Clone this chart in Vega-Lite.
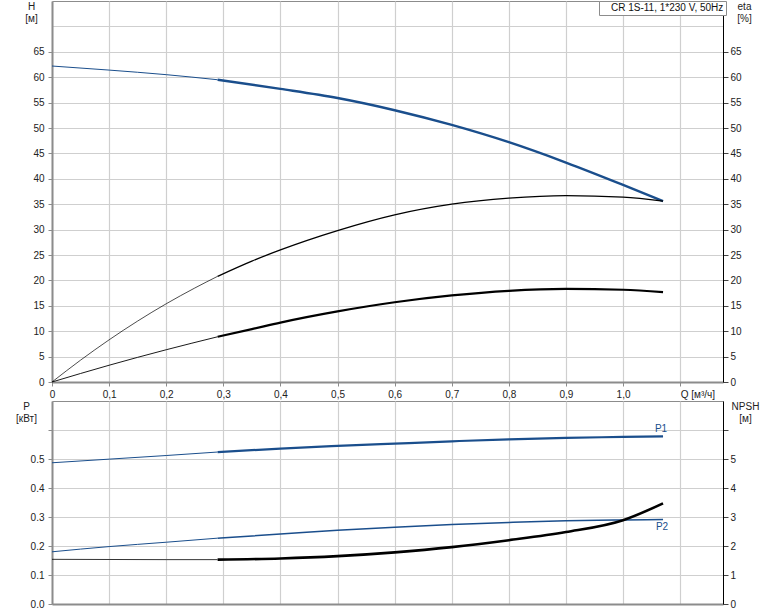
{
  "$schema": "https://vega.github.io/schema/vega-lite/v6.json",
  "background": "white",
  "padding": {"left": 15, "top": 0, "right": 0, "bottom": 0},
  "autosize": {"type": "pad"},
  "config": {
    "font": "Liberation Sans",
    "view": {"stroke": "#8c8c8c", "strokeWidth": 1},
    "axis": {"labelFontSize": 10, "labelColor": "#222", "labelFont": "Liberation Sans", "titleFont": "Liberation Sans", "titleFontSize": 10, "titleFontWeight": "normal", "titleColor": "#222", "gridColor": "#cfcfcf", "gridWidth": 1.2}
  },
  "data": {"values": [
    {"c": "H", "s": "a", "Q": 0, "v": 62.2}, {"c": "H", "s": "a", "Q": 0.1, "v": 61.4}, {"c": "H", "s": "a", "Q": 0.2, "v": 60.5}, {"c": "H", "s": "a", "Q": 0.29, "v": 59.5},
    {"c": "H", "s": "b", "Q": 0.29, "v": 59.5}, {"c": "H", "s": "b", "Q": 0.4, "v": 57.7}, {"c": "H", "s": "b", "Q": 0.5, "v": 55.9}, {"c": "H", "s": "b", "Q": 0.6, "v": 53.5}, {"c": "H", "s": "b", "Q": 0.7, "v": 50.6}, {"c": "H", "s": "b", "Q": 0.8, "v": 47.2}, {"c": "H", "s": "b", "Q": 0.9, "v": 43.2}, {"c": "H", "s": "b", "Q": 1.0, "v": 38.8}, {"c": "H", "s": "b", "Q": 1.07, "v": 35.6},
    {"c": "E1", "s": "a", "Q": 0, "v": 0}, {"c": "E1", "s": "a", "Q": 0.05, "v": 4.3}, {"c": "E1", "s": "a", "Q": 0.1, "v": 8.3}, {"c": "E1", "s": "a", "Q": 0.15, "v": 12.0}, {"c": "E1", "s": "a", "Q": 0.2, "v": 15.4}, {"c": "E1", "s": "a", "Q": 0.25, "v": 18.5}, {"c": "E1", "s": "a", "Q": 0.29, "v": 20.8},
    {"c": "E1", "s": "b", "Q": 0.29, "v": 20.8}, {"c": "E1", "s": "b", "Q": 0.35, "v": 23.8}, {"c": "E1", "s": "b", "Q": 0.4, "v": 26.0}, {"c": "E1", "s": "b", "Q": 0.5, "v": 29.8}, {"c": "E1", "s": "b", "Q": 0.6, "v": 32.9}, {"c": "E1", "s": "b", "Q": 0.7, "v": 35.0}, {"c": "E1", "s": "b", "Q": 0.8, "v": 36.2}, {"c": "E1", "s": "b", "Q": 0.9, "v": 36.7}, {"c": "E1", "s": "b", "Q": 1.0, "v": 36.4}, {"c": "E1", "s": "b", "Q": 1.07, "v": 35.6},
    {"c": "E2", "s": "a", "Q": 0, "v": 0}, {"c": "E2", "s": "a", "Q": 0.1, "v": 3.3}, {"c": "E2", "s": "a", "Q": 0.2, "v": 6.35}, {"c": "E2", "s": "a", "Q": 0.29, "v": 8.9},
    {"c": "E2", "s": "b", "Q": 0.29, "v": 8.9}, {"c": "E2", "s": "b", "Q": 0.35, "v": 10.4}, {"c": "E2", "s": "b", "Q": 0.4, "v": 11.7}, {"c": "E2", "s": "b", "Q": 0.5, "v": 13.9}, {"c": "E2", "s": "b", "Q": 0.6, "v": 15.7}, {"c": "E2", "s": "b", "Q": 0.7, "v": 17.05}, {"c": "E2", "s": "b", "Q": 0.8, "v": 17.95}, {"c": "E2", "s": "b", "Q": 0.9, "v": 18.33}, {"c": "E2", "s": "b", "Q": 1.0, "v": 18.16}, {"c": "E2", "s": "b", "Q": 1.07, "v": 17.7},
    {"c": "P1", "s": "a", "Q": 0, "v": 0.487}, {"c": "P1", "s": "a", "Q": 0.1, "v": 0.4995}, {"c": "P1", "s": "a", "Q": 0.2, "v": 0.512}, {"c": "P1", "s": "a", "Q": 0.29, "v": 0.524},
    {"c": "P1", "s": "b", "Q": 0.29, "v": 0.524}, {"c": "P1", "s": "b", "Q": 0.4, "v": 0.536}, {"c": "P1", "s": "b", "Q": 0.5, "v": 0.545}, {"c": "P1", "s": "b", "Q": 0.6, "v": 0.553}, {"c": "P1", "s": "b", "Q": 0.7, "v": 0.561}, {"c": "P1", "s": "b", "Q": 0.8, "v": 0.568}, {"c": "P1", "s": "b", "Q": 0.9, "v": 0.573}, {"c": "P1", "s": "b", "Q": 1.0, "v": 0.576}, {"c": "P1", "s": "b", "Q": 1.07, "v": 0.578},
    {"c": "P2", "s": "a", "Q": 0, "v": 0.18}, {"c": "P2", "s": "a", "Q": 0.1, "v": 0.198}, {"c": "P2", "s": "a", "Q": 0.2, "v": 0.213}, {"c": "P2", "s": "a", "Q": 0.29, "v": 0.227},
    {"c": "P2", "s": "b", "Q": 0.29, "v": 0.227}, {"c": "P2", "s": "b", "Q": 0.4, "v": 0.241}, {"c": "P2", "s": "b", "Q": 0.5, "v": 0.254}, {"c": "P2", "s": "b", "Q": 0.6, "v": 0.265}, {"c": "P2", "s": "b", "Q": 0.7, "v": 0.274}, {"c": "P2", "s": "b", "Q": 0.8, "v": 0.281}, {"c": "P2", "s": "b", "Q": 0.9, "v": 0.287}, {"c": "P2", "s": "b", "Q": 1.0, "v": 0.29}, {"c": "P2", "s": "b", "Q": 1.07, "v": 0.291},
    {"c": "N", "s": "a", "Q": 0, "v": 1.54}, {"c": "N", "s": "a", "Q": 0.1, "v": 1.535}, {"c": "N", "s": "a", "Q": 0.2, "v": 1.53}, {"c": "N", "s": "a", "Q": 0.29, "v": 1.53},
    {"c": "N", "s": "b", "Q": 0.29, "v": 1.53}, {"c": "N", "s": "b", "Q": 0.4, "v": 1.57}, {"c": "N", "s": "b", "Q": 0.5, "v": 1.65}, {"c": "N", "s": "b", "Q": 0.6, "v": 1.78}, {"c": "N", "s": "b", "Q": 0.7, "v": 1.96}, {"c": "N", "s": "b", "Q": 0.8, "v": 2.2}, {"c": "N", "s": "b", "Q": 0.9, "v": 2.48}, {"c": "N", "s": "b", "Q": 1.0, "v": 2.89}, {"c": "N", "s": "b", "Q": 1.07, "v": 3.47}
  ]},
  "spacing": 19,
  "bounds": "flush",
  "vconcat": [
    {
      "width": 671,
      "height": 381,
      "encoding": {
        "x": {"field": "Q", "type": "quantitative", "scale": {"domain": [0, 1.175], "nice": false, "zero": false},
          "axis": {"values": [0, 0.1, 0.2, 0.3, 0.4, 0.5, 0.6, 0.7, 0.8, 0.9, 1.0, 1.1],
            "labelExpr": "datum.value > 1.05 ? 'Q [м³/ч]' : (datum.value == 0 ? '0' : replace(format(datum.value, '.1f'), '.', ','))",
            "labelAlign": {"condition": {"test": "datum.value > 1.05", "value": "left"}, "value": "center"},
            "labelPadding": 3, "tickSize": 4, "tickColor": "#8c8c8c", "domainColor": "#8c8c8c", "domainWidth": 2, "grid": true, "title": null}}
      },
      "layer": [
        {
          "encoding": {"y": {"field": "v", "type": "quantitative", "scale": {"domain": [0, 75], "nice": false},
            "axis": {"orient": "left", "values": [0, 5, 10, 15, 20, 25, 30, 35, 40, 45, 50, 55, 60, 65, 70],
              "labelExpr": "datum.value == 70 ? '' : datum.label",
              "tickOpacity": {"condition": {"test": "datum.value == 70", "value": 0}, "value": 1},
              "tickSize": 4, "tickColor": "#8c8c8c", "labelPadding": 4, "domainColor": "#8c8c8c", "domainWidth": 2, "grid": true,
              "title": ["H", "[м]"], "titleAngle": 0, "titleAlign": "center", "titleBaseline": "top", "titleX": -21, "titleY": 0, "titleLineHeight": 12}}},
          "layer": [
            {"transform": [{"filter": "datum.c == 'H'"}], "mark": {"type": "line", "color": "#1a4e8c", "interpolate": "monotone"},
              "encoding": {"detail": {"field": "s"}, "strokeWidth": {"condition": {"test": "datum.s == 'a'", "value": 1}, "value": 2.4}}},
            {"transform": [{"filter": "datum.c == 'H' && datum.Q == 0"}], "mark": {"type": "point", "opacity": 0},
              "encoding": {"shape": {"datum": "CR 1S-11, 1*230 V, 50Hz", "legend": {"orient": "none", "legendX": 547, "legendY": 0, "title": null, "symbolSize": 0, "symbolOpacity": 0, "symbolStrokeWidth": 0, "labelOffset": 0, "padding": 2, "strokeColor": "#8c8c8c", "fillColor": "white", "labelFontSize": 10, "labelColor": "#111", "labelFont": "Liberation Sans"}}}}
          ]
        },
        {
          "encoding": {"y": {"field": "v", "type": "quantitative", "scale": {"domain": [0, 75], "nice": false},
            "axis": {"orient": "right", "values": [0, 5, 10, 15, 20, 25, 30, 35, 40, 45, 50, 55, 60, 65, 70],
              "labelExpr": "datum.value == 70 ? '' : datum.label",
              "tickOpacity": {"condition": {"test": "datum.value == 70", "value": 0}, "value": 1},
              "tickSize": 5, "tickColor": "#444", "labelPadding": 2, "domainColor": "#000", "domainWidth": 1, "grid": false,
              "title": ["eta", "[%]"], "titleAngle": 0, "titleAlign": "center", "titleBaseline": "top", "titleX": 21, "titleY": 0, "titleLineHeight": 12}}},
          "layer": [
            {"transform": [{"filter": "datum.c == 'E1'"}], "mark": {"type": "line", "color": "#000", "interpolate": "monotone"},
              "encoding": {"detail": {"field": "s"}, "strokeWidth": {"condition": {"test": "datum.s == 'a'", "value": 0.7}, "value": 1.3}}},
            {"transform": [{"filter": "datum.c == 'E2'"}], "mark": {"type": "line", "color": "#000", "interpolate": "monotone"},
              "encoding": {"detail": {"field": "s"}, "strokeWidth": {"condition": {"test": "datum.s == 'a'", "value": 0.9}, "value": 2.2}}}
          ]
        }
      ],
      "resolve": {"scale": {"y": "independent"}}
    },
    {
      "width": 671,
      "height": 203,
      "encoding": {
        "x": {"field": "Q", "type": "quantitative", "scale": {"domain": [0, 1.175], "nice": false, "zero": false},
          "axis": {"values": [0, 0.1, 0.2, 0.3, 0.4, 0.5, 0.6, 0.7, 0.8, 0.9, 1.0, 1.1], "labels": false, "ticks": false, "domainColor": "#8c8c8c", "domainWidth": 2, "grid": true, "title": null}}
      },
      "layer": [
        {
          "encoding": {"y": {"field": "v", "type": "quantitative", "scale": {"domain": [0, 0.7], "nice": false},
            "axis": {"orient": "left", "values": [0, 0.1, 0.2, 0.3, 0.4, 0.5, 0.6], "format": ".1f",
              "labelExpr": "datum.value > 0.55 ? '' : datum.label",
              "tickSize": 4, "tickColor": "#8c8c8c", "labelPadding": 4, "domainColor": "#8c8c8c", "domainWidth": 2, "grid": true,
              "title": ["P", "[кВт]"], "titleAngle": 0, "titleAlign": "center", "titleBaseline": "top", "titleX": -26, "titleY": 0, "titleLineHeight": 12}}},
          "layer": [
            {"transform": [{"filter": "datum.c == 'P1'"}], "mark": {"type": "line", "color": "#1a4e8c", "interpolate": "monotone"},
              "encoding": {"detail": {"field": "s"}, "strokeWidth": {"condition": {"test": "datum.s == 'a'", "value": 1}, "value": 2.2}}},
            {"transform": [{"filter": "datum.c == 'P2'"}], "mark": {"type": "line", "color": "#1a4e8c", "interpolate": "monotone"},
              "encoding": {"detail": {"field": "s"}, "strokeWidth": {"condition": {"test": "datum.s == 'a'", "value": 1}, "value": 1.5}}},
            {"transform": [{"filter": "datum.c == 'P1' && datum.s == 'b' && datum.Q == 1.07"}], "mark": {"type": "text", "color": "#1a4e8c", "fontSize": 10, "dy": -7, "dx": -2},
              "encoding": {"text": {"field": "c"}}},
            {"transform": [{"filter": "datum.c == 'P2' && datum.s == 'b' && datum.Q == 1.07"}], "mark": {"type": "text", "color": "#1a4e8c", "fontSize": 10, "dy": 7, "dx": -1},
              "encoding": {"text": {"field": "c"}}}
          ]
        },
        {
          "encoding": {"y": {"field": "v", "type": "quantitative", "scale": {"domain": [0, 7], "nice": false},
            "axis": {"orient": "right", "values": [0, 1, 2, 3, 4, 5, 6],
              "labelExpr": "datum.value == 6 ? '' : datum.label",
              "tickSize": 5, "tickColor": "#444", "labelPadding": 2, "domainColor": "#000", "domainWidth": 1, "grid": false,
              "title": ["NPSH", "[м]"], "titleAngle": 0, "titleAlign": "center", "titleBaseline": "top", "titleX": 22, "titleY": 0, "titleLineHeight": 12}}},
          "layer": [
            {"transform": [{"filter": "datum.c == 'N'"}], "mark": {"type": "line", "color": "#000", "interpolate": "monotone"},
              "encoding": {"detail": {"field": "s"}, "strokeWidth": {"condition": {"test": "datum.s == 'a'", "value": 0.8}, "value": 2.6}}}
          ]
        }
      ],
      "resolve": {"scale": {"y": "independent"}}
    }
  ]
}
